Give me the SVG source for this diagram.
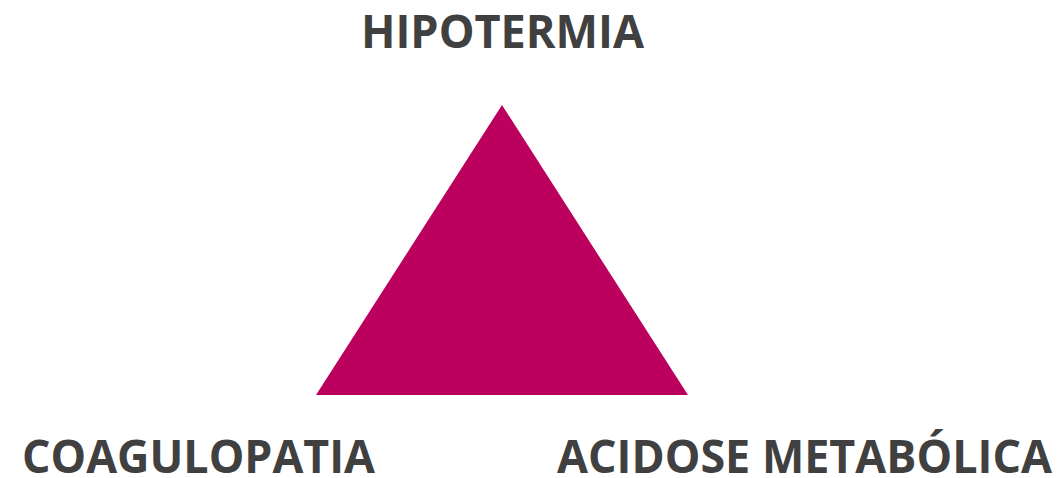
<svg xmlns="http://www.w3.org/2000/svg" width="1061" height="478" viewBox="0 0 1061 478">
<style>
.lbl{font-family:"Open Sans","Liberation Sans",sans-serif;font-weight:700;font-size:46px;fill:#404040}
</style>
<rect width="1061" height="478" fill="#ffffff"/>
<g id="triangle"><polygon points="502,105 316,395 688,395" fill="#BC005E"/></g>
<g id="hipotermia"><text class="lbl" x="361" y="48" textLength="283" lengthAdjust="spacingAndGlyphs">HIPOTERMIA</text></g>
<g id="coagulopatia"><text class="lbl" x="22" y="473" textLength="353" lengthAdjust="spacingAndGlyphs">COAGULOPATIA</text></g>
<g id="acidose"><text class="lbl" x="557" y="473" textLength="495" lengthAdjust="spacingAndGlyphs">ACIDOSE METABÓLICA</text></g>
<g id="connectors"></g>
</svg>
